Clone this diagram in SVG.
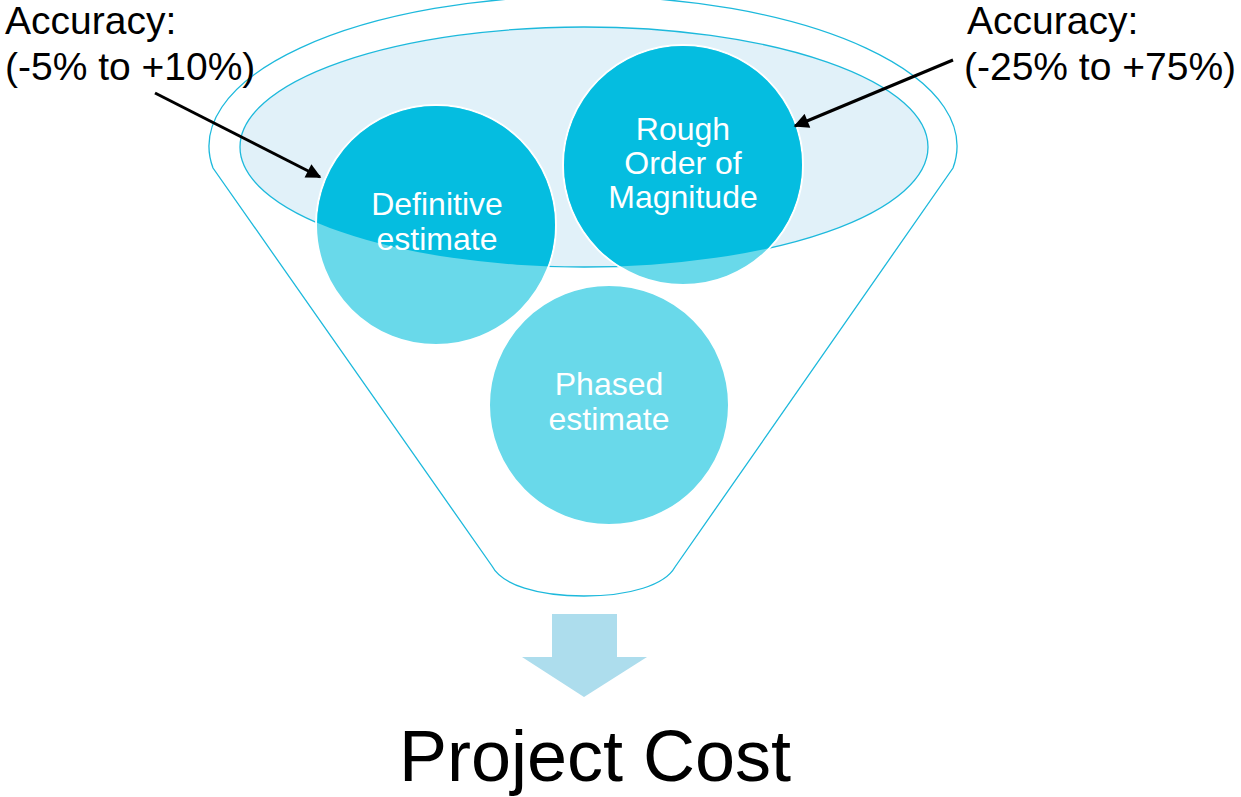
<svg xmlns="http://www.w3.org/2000/svg" width="1241" height="797" viewBox="0 0 1241 797">
  <style>
    .funnel { fill: #ffffff; stroke: #1DB9DC; stroke-width: 1.3; }
    .mouth { fill: #E1F1F9; stroke: #1DB9DC; stroke-width: 1.3; }
    .ball { fill: #69D9EA; stroke: #ffffff; stroke-width: 2; }
    .ballDark { fill: #05BDE0; }
    .inner { font-family: "Liberation Sans", Arial, sans-serif; font-size: 32px; fill: #ffffff; text-anchor: middle; }
    .note { font-family: "Liberation Sans", Arial, sans-serif; font-size: 39px; fill: #000000; }
    .title { font-family: "Liberation Sans", Arial, sans-serif; font-size: 72px; fill: #000000; text-anchor: middle; }
    .conn { stroke: #000000; stroke-width: 3; fill: none; }
  </style>
  <defs>
    <marker id="ah" viewBox="0 0 10 10" refX="9" refY="5" markerWidth="5.5" markerHeight="5" markerUnits="strokeWidth" orient="auto">
      <path d="M0,0 L10,5 L0,10 Z" fill="#000000"/>
    </marker>
    <clipPath id="mouthClip">
      <ellipse cx="584" cy="147" rx="344" ry="120"/>
    </clipPath>
  </defs>

  <g id="funnel">
    <path class="funnel" d="M213,168 A374,150 0 1 1 953,168 L675,567 C665,585 630,596 584,596 C538,596 502,585 492,566 Z"/>
    <ellipse class="mouth" cx="584" cy="147" rx="344" ry="120"/>
  </g>

  <g id="node-definitive">
    <circle class="ball" cx="436" cy="225" r="120"/>
    <circle class="ballDark" cx="436" cy="225" r="119" clip-path="url(#mouthClip)"/>
    <text class="inner" x="437" y="215">Definitive</text>
    <text class="inner" x="437" y="250">estimate</text>
  </g>

  <g id="node-rough">
    <circle class="ball" cx="683" cy="165" r="120"/>
    <circle class="ballDark" cx="683" cy="165" r="119" clip-path="url(#mouthClip)"/>
    <text class="inner" x="683" y="140">Rough</text>
    <text class="inner" x="683" y="174">Order of</text>
    <text class="inner" x="683" y="208">Magnitude</text>
  </g>

  <g id="node-phased">
    <circle class="ball" cx="609" cy="405" r="120"/>
    <text class="inner" x="609" y="395">Phased</text>
    <text class="inner" x="609" y="430">estimate</text>
  </g>

  <g id="output-arrow">
    <path d="M552,614 L617,614 L617,657 L647,657 L584,697 L522,657 L552,657 Z" fill="#ADDDED"/>
  </g>

  <g id="label-left">
    <text class="note" x="5" y="34">Accuracy:</text>
    <text class="note" x="5" y="80">(-5% to +10%)</text>
  </g>

  <g id="label-right">
    <text class="note" x="967" y="34">Accuracy:</text>
    <text class="note" x="964" y="80">(-25% to +75%)</text>
  </g>

  <g id="title">
    <text class="title" x="595" y="781">Project Cost</text>
  </g>

  <g id="connectors">
    <line class="conn" x1="155" y1="93" x2="320" y2="177" marker-end="url(#ah)"/>
    <line class="conn" x1="953" y1="60" x2="795" y2="126" marker-end="url(#ah)"/>
  </g>
</svg>
